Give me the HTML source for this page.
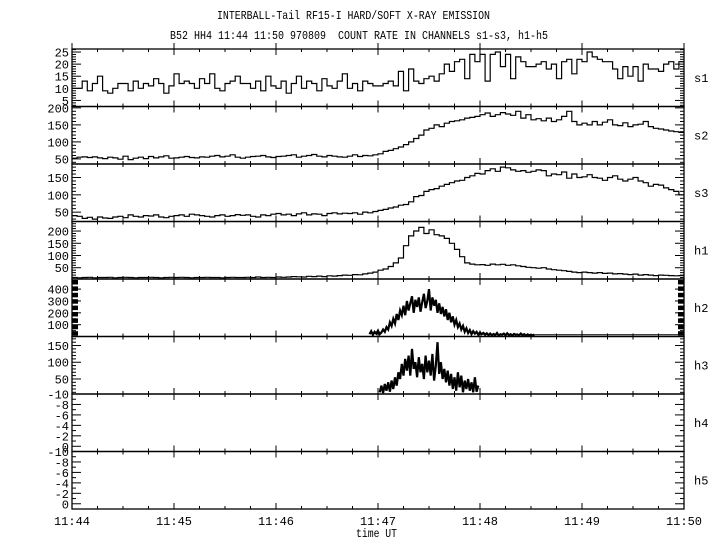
<!DOCTYPE html>
<html><head><meta charset="utf-8"><style>
html,body{margin:0;padding:0;background:#fff}
svg{display:block}
text{font-family:"Liberation Mono",monospace;fill:#000}
</style></head><body>
<svg id="chart" width="720" height="550" viewBox="0 0 720 550" xmlns="http://www.w3.org/2000/svg">
<text x="217" y="19" font-size="12" textLength="273" lengthAdjust="spacingAndGlyphs">INTERBALL-Tail RF15-I HARD/SOFT X-RAY EMISSION</text>
<text x="170" y="39" font-size="12" textLength="378" lengthAdjust="spacingAndGlyphs" style="white-space:pre">B52 HH4 11:44 11:50 970809  COUNT RATE IN CHANNELS s1-s3, h1-h5</text>
<text x="356" y="537" font-size="12" textLength="41" lengthAdjust="spacingAndGlyphs">time UT</text>
<g id="g"></g>
</svg>
<script>
// ---- data (3-second bins from 11:44:00) ----
const s1Values=[10,10,13,9,12,15,9,8,10,12,12,9,13,10,12,11,14,12,8,11,
16,12,13,12,10,14,12,16,10,9,12,13,15,12,12,10,13,9,15,11,
10,13,8,12,15,10,13,12,9,14,11,10,13,16,10,12,9,13,12,11,
11,12,13,11,17,9,18,13,12,14,15,13,16,20,17,21,22,14,24,21,
24,13,24,25,19,24,14,23,21,19,19,20,21,18,20,14,21,22,16,22,
21,25,23,22,21,21,18,14,19,15,19,13,20,18,18,17,20,21,18,21];
const s2Values=[52,55,56,54,56,53,51,55,53,49,58,48,52,55,51,57,53,56,59,52,
53,55,57,54,53,56,55,58,60,56,58,62,55,52,55,57,58,60,56,54,
57,58,60,62,55,58,60,63,58,56,60,58,56,55,58,62,57,60,59,62,
65,72,75,80,85,92,100,110,120,135,140,150,145,155,160,162,165,170,172,175,
180,185,175,180,186,182,178,190,170,180,165,168,162,170,160,165,175,190,160,150,
155,150,160,150,158,165,150,148,156,145,150,152,160,145,140,138,135,132,130,128];
const s3Values=[40,38,32,35,30,36,33,32,36,38,34,42,38,36,40,39,42,36,34,38,
40,42,38,44,42,40,38,36,40,42,38,40,43,41,42,38,36,42,40,44,
46,42,44,40,45,48,42,45,44,40,46,48,45,47,46,48,44,50,48,52,
55,58,62,65,70,72,80,95,98,110,115,118,125,130,135,140,142,150,155,162,
160,170,175,168,180,178,172,168,170,165,168,172,170,155,160,158,166,148,160,150,
152,158,150,148,142,150,155,145,140,145,150,140,135,125,130,128,120,115,110,100];
const h1Values=[10,9,10,11,9,10,10,11,9,10,11,10,9,10,10,11,10,9,10,11,
10,11,10,9,10,10,11,10,10,9,10,11,10,10,11,10,12,10,11,10,
12,11,12,14,13,12,15,14,16,14,17,16,18,20,19,22,21,25,28,32,
40,45,55,70,90,140,180,200,215,190,205,185,180,170,150,125,95,70,65,62,
63,60,65,62,64,60,62,58,55,52,50,48,50,45,42,40,38,35,32,30,
32,30,28,30,27,28,25,26,24,22,24,20,22,20,18,20,19,18,17,18];
// h2: 1-second samples starting at t=175 s
const h2Start=175;
const h2Values=[20,45,15,40,25,50,20,35,60,
40,80,60,120,90,150,110,190,140,220,180,
260,180,300,220,280,340,200,310,250,330,210,290,360,240,300,400,220,330,260,310,200,
280,190,250,170,230,140,200,120,170,100,140,80,110,60,90,
40,70,30,55,20,45,25,40,15,35,20,30,15,28,12,
25,10,22,12,30,8,20,15,25,10,28,12,20,8,22,15,18,10,25,12,20,8,18,12,15,10,18];
const h2Tail=15;
// h3: 1-second samples starting at t=181 s
const h3Start=181;
const h3Values=[10,30,8,35,15,40,12,45,20,55,30,70,
50,95,60,110,75,120,60,140,80,100,55,115,70,
95,50,120,70,105,60,125,45,90,160,65,100,50,80,40,
75,30,65,20,55,15,70,25,60,10,45,20,50,15,40,10,55,12,30];
const timeLabels=["11:44","11:45","11:46","11:47","11:48","11:49","11:50"];
const channels=["s1","s2","s3","h1","h2","h3","h4","h5"];

const NS="http://www.w3.org/2000/svg";
const g=document.getElementById('g');
const X0=72,X1=684,TOP=49,PH=57.5,T=360,BIN=3;
const x=t=>X0+(X1-X0)*t/T;
function el(tag,at,name){const e=document.createElementNS(NS,tag);for(const k in at)e.setAttribute(k,at[k]);


g.appendChild(e);return e;}
const spec=[
 {min:2.5,max:26.25,lab:[5,10,15,20,25],minor:1},
 {min:35,max:204,lab:[50,100,150,200],minor:10},
 {min:23,max:189,lab:[50,100,150],minor:10},
 {min:4,max:239,lab:[50,100,150,200],minor:10},
 {min:0.7,max:485,lab:[100,200,300,400],minor:50},
 {min:5,max:177,lab:[50,100,150],minor:10},
 {min:1,max:-10,lab:[-10,-8,-6,-4,-2,0],minor:1},
 {min:1,max:-10,lab:[-10,-8,-6,-4,-2,0],minor:1}];
spec.forEach((s,i)=>{
 const top=TOP+i*PH,bot=top+PH;
 s.y=v=>bot-(v-s.min)/(s.max-s.min)*PH;
 el('rect',{x:X0,y:top,width:X1-X0,height:PH,fill:'none',stroke:'#000','stroke-width':1.3},'panel-frame-'+channels[i]);
 const lo=Math.min(s.min,s.max),hi=Math.max(s.min,s.max);
 for(let v=Math.ceil(lo/s.minor)*s.minor;v<=hi;v+=s.minor){
  const yy=s.y(v);if(yy<top+0.5||yy>bot-0.5)continue;
  const major=s.lab.includes(Math.round(v*100)/100);
  const L=major?9:4;
  el('line',{x1:X0,x2:X0+L,y1:yy,y2:yy,stroke:'#000'},'y-tick');
  el('line',{x1:X1,x2:X1-L,y1:yy,y2:yy,stroke:'#000'},'y-tick-right');
 }
 s.lab.forEach(v=>{const yy=s.y(v);
  const t=el('text',{x:69,y:yy+4.5,'font-size':12,'text-anchor':'end'},'y-tick-label');t.textContent=v;});
 const c=el('text',{x:694,y:top+PH/2+4,'font-size':12},'channel-label-'+channels[i]);c.textContent=channels[i];
 for(let k=0;k<=24;k++){const xx=x(k*15);const maj=k%4==0;const L=maj?6:3;
  el('line',{x1:xx,x2:xx,y1:top-(maj?L:0),y2:top+L,stroke:'#000'},'x-tick');
  el('line',{x1:xx,x2:xx,y1:bot-L,y2:bot,stroke:'#000'},'x-tick');}
});
timeLabels.forEach((l,k)=>{const t=el('text',{x:x(k*60),y:525,'font-size':12,'text-anchor':'middle'},'x-tick-label');t.textContent=l;});
function steps(vals,s,name){let d='';vals.forEach((v,i)=>{const yy=s.y(v).toFixed(1);
 d+=(i?'L':'M')+x(i*BIN).toFixed(1)+' '+yy+'L'+x((i+1)*BIN).toFixed(1)+' '+yy;});
 el('path',{d:d,fill:'none',stroke:'#000','stroke-width':1.2},name);}
steps(s1Values,spec[0],'series-s1');
steps(s2Values,spec[1],'series-s2');
steps(s3Values,spec[2],'series-s3');
steps(h1Values,spec[3],'series-h1');
function noisy(vals,start,s,name){let d='';vals.forEach((v,i)=>{d+=(i?'L':'M')+x(start+i).toFixed(1)+' '+s.y(v).toFixed(1);});
 el('path',{d:d,fill:'none',stroke:'#000','stroke-width':2.2},name);}
noisy(h2Values,h2Start,spec[4],'series-h2');
el('line',{x1:x(h2Start+h2Values.length-1),x2:X1,y1:spec[4].y(h2Tail),y2:spec[4].y(h2Tail),stroke:'#000'},'series-h2-tail');
noisy(h3Values,h3Start,spec[5],'series-h3');
for(let k=0;k<9;k++){const yy=TOP+4*PH+1+k*6.4;
 el('rect',{x:X0,y:yy,width:6,height:4.5,fill:'#000'},'h2-axis-block');
 el('rect',{x:X1-6,y:yy,width:6,height:4.5,fill:'#000'},'h2-axis-block-right');}
</script>
</body></html>
